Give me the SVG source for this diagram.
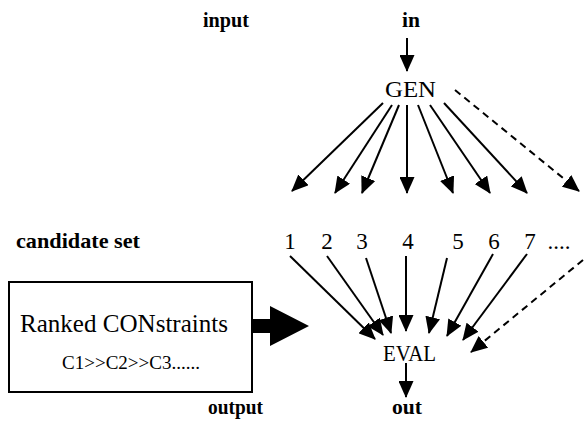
<svg xmlns="http://www.w3.org/2000/svg" width="584" height="428" viewBox="0 0 584 428">
<style>
text{font-family:"Liberation Serif","Times New Roman",serif;fill:#000}
.lbl{font-weight:bold;font-size:21px}
.nd{font-size:24px}
.num{font-size:23px;text-anchor:middle}
.ln{stroke:#000;stroke-width:2;fill:none}
.dash{stroke-dasharray:7,5}
</style>
<defs>
<marker id="ah" viewBox="0 0 17 15" refX="16" refY="7.5" markerWidth="17" markerHeight="15" markerUnits="userSpaceOnUse" orient="auto">
<path d="M0,0 L17,7.5 L0,15 Z" fill="#000"/>
</marker>
</defs>
<rect width="584" height="428" fill="#fff"/>
<g id="labels" font-family="Liberation Serif, serif">
<text class="lbl" x="203" y="27" textLength="46" lengthAdjust="spacingAndGlyphs">input</text>
<text class="lbl" x="16" y="248" textLength="124" lengthAdjust="spacingAndGlyphs">candidate set</text>
<text class="lbl" x="208" y="414" textLength="55" lengthAdjust="spacingAndGlyphs">output</text>
</g>
<g id="in" font-family="Liberation Serif, serif"><text class="lbl" x="402" y="27" textLength="18" lengthAdjust="spacingAndGlyphs">in</text></g>
<g id="GEN" font-family="Liberation Serif, serif"><text class="nd" x="385" y="97" textLength="51" lengthAdjust="spacingAndGlyphs">GEN</text></g>
<g id="candidates" font-family="Liberation Serif, serif">
<text class="num" x="290" y="249">1</text>
<text class="num" x="327" y="249">2</text>
<text class="num" x="362" y="249">3</text>
<text class="num" x="408" y="249">4</text>
<text class="num" x="458" y="249">5</text>
<text class="num" x="494" y="249">6</text>
<text class="num" x="530" y="249">7</text>
<text class="num" x="559" y="249">....</text>
</g>
<g id="EVAL" font-family="Liberation Serif, serif"><text class="nd" x="383" y="361" textLength="53" lengthAdjust="spacingAndGlyphs">EVAL</text></g>
<g id="out" font-family="Liberation Serif, serif"><text class="lbl" x="392" y="414" textLength="30" lengthAdjust="spacingAndGlyphs">out</text></g>
<g id="constraints" font-family="Liberation Serif, serif">
<rect x="9" y="282" width="243" height="110" fill="none" stroke="#000" stroke-width="2"/>
<text x="20" y="332" font-size="25" textLength="208" lengthAdjust="spacingAndGlyphs">Ranked CONstraints</text>
<text x="62" y="369" font-size="19" textLength="138" lengthAdjust="spacingAndGlyphs">C1&gt;&gt;C2&gt;&gt;C3......</text>
</g>
<g id="connectors">
<line class="ln" x1="407" y1="38" x2="407" y2="71" marker-end="url(#ah)"/>
<line class="ln" x1="383" y1="103" x2="292" y2="191" marker-end="url(#ah)"/>
<line class="ln" x1="392" y1="105" x2="335" y2="193" marker-end="url(#ah)"/>
<line class="ln" x1="399" y1="105" x2="362" y2="193" marker-end="url(#ah)"/>
<line class="ln" x1="407" y1="105" x2="407" y2="193" marker-end="url(#ah)"/>
<line class="ln" x1="418" y1="105" x2="453" y2="193" marker-end="url(#ah)"/>
<line class="ln" x1="430" y1="105" x2="490" y2="193" marker-end="url(#ah)"/>
<line class="ln" x1="444" y1="103" x2="527" y2="193" marker-end="url(#ah)"/>
<line class="ln dash" x1="455" y1="90" x2="579" y2="191" marker-end="url(#ah)"/>
<line class="ln" x1="290" y1="256" x2="375" y2="339" marker-end="url(#ah)"/>
<line class="ln" x1="327" y1="256" x2="383" y2="335" marker-end="url(#ah)"/>
<line class="ln" x1="366" y1="258" x2="391" y2="333" marker-end="url(#ah)"/>
<line class="ln" x1="406" y1="256" x2="406" y2="331" marker-end="url(#ah)"/>
<line class="ln" x1="447" y1="258" x2="429" y2="333" marker-end="url(#ah)"/>
<line class="ln" x1="493" y1="254" x2="447" y2="336" marker-end="url(#ah)"/>
<line class="ln" x1="527" y1="254" x2="463" y2="340" marker-end="url(#ah)"/>
<line class="ln dash" x1="583" y1="260" x2="471" y2="352" marker-end="url(#ah)"/>
<line class="ln" x1="406" y1="363" x2="406" y2="397" marker-end="url(#ah)"/>
<path d="M252,319 L270,319 L270,306 L309,326 L270,346 L270,333 L252,333 Z" fill="#000"/>
</g>
</svg>
